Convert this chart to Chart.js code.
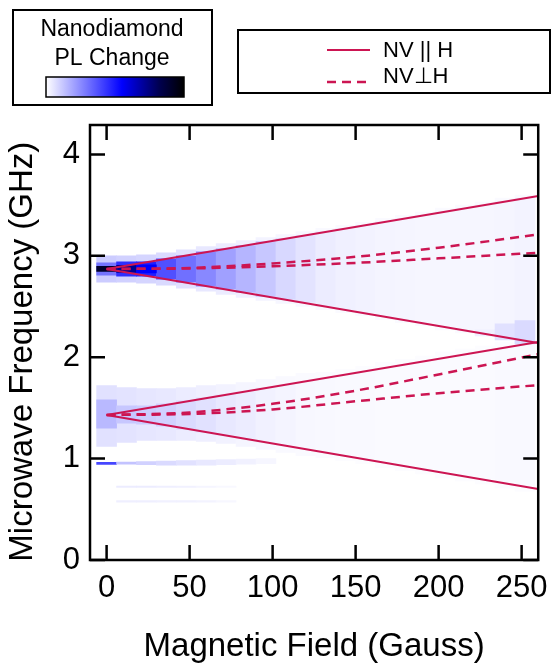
<!DOCTYPE html>
<html>
<head>
<meta charset="utf-8">
<script src="https://cdn.jsdelivr.net/npm/chart.js@4.4.1/dist/chart.umd.min.js"></script>
<style>
  html, body { margin: 0; padding: 0; background: #fff; }
  canvas { display: block; }
</style>
</head>
<body>
<canvas id="grafico" width="558" height="663"></canvas>
<script>
// eixos
const xTicks = [0, 50, 100, 150, 200, 250];
const yTicks = [0, 1, 2, 3, 4];

// colunas do mapa (Gauss)
const fieldCols = [0, 12, 24, 36, 48, 60, 72, 84, 96, 108, 120, 132, 144, 156, 168, 180, 192, 204, 216, 228, 240, 252];

// faixa superior (~2.87 GHz)
const upperHaloLow   = [2.74, 2.74, 2.73, 2.71, 2.68, 2.65, 2.62, 2.59, 2.56, 2.53, 2.50, 2.47, 2.44, 2.41, 2.37, 2.34, 2.31, 2.27, 2.24, 2.21, 2.17, 2.14];
const upperHaloHigh  = [3.00, 3.00, 3.01, 3.03, 3.06, 3.09, 3.12, 3.15, 3.18, 3.21, 3.24, 3.27, 3.30, 3.33, 3.37, 3.40, 3.43, 3.47, 3.50, 3.53, 3.57, 3.60];
const upperHaloLevel = [0.11, 0.10, 0.09, 0.08, 0.065, 0.05, 0.04, 0.032, 0.026, 0.02, 0.016, 0.013, 0.011, 0.01, 0.01, 0.01, 0.01, 0.01, 0.01, 0.01, 0.01, 0.01];

const upperMidLow   = [2.81, 2.80, 2.80, 2.77, 2.74, 2.70, 2.67, 2.64, 2.60, 2.57, 2.54, 2.50, 2.47, 2.44, 2.40, 2.37, 2.34, 2.30, 2.27, 2.24, 2.20, 2.17];
const upperMidHigh  = [2.93, 2.94, 2.94, 2.97, 3.00, 3.04, 3.07, 3.10, 3.14, 3.17, 3.20, 3.24, 3.27, 3.30, 3.34, 3.37, 3.40, 3.44, 3.47, 3.50, 3.54, 3.57];
const upperMidLevel = [0.30, 0.45, 0.48, 0.377, 0.308, 0.257, 0.205, 0.16, 0.12, 0.085, 0.06, 0.042, 0.032, 0.027, 0.024, 0.022, 0.02, 0.02, 0.02, 0.02, 0.022, 0.026];

const upperCenterCols  = [0, 12, 24];
const upperCenterLow   = [2.845, 2.835, 2.83];
const upperCenterHigh  = [2.895, 2.905, 2.91];
const upperCenterLevel = [0.90, 0.72, 0.55];

const crossingCols  = [228, 240, 252];
const crossingLow   = [2.21, 2.17, 2.13];
const crossingHigh  = [2.27, 2.33, 2.36];
const crossingLevel = [0.035, 0.065, 0.08];

// faixa inferior (~1.43 GHz)
const lowerHaloLow   = [1.12, 1.16, 1.18, 1.18, 1.18, 1.17, 1.15, 1.12, 1.09, 1.06, 1.03, 1.01, 0.98, 0.95, 0.91, 0.88, 0.85, 0.81, 0.78, 0.75, 0.71, 0.68];
const lowerHaloHigh  = [1.72, 1.70, 1.69, 1.69, 1.70, 1.72, 1.73, 1.75, 1.78, 1.81, 1.84, 1.85, 1.88, 1.91, 1.95, 1.98, 2.01, 2.05, 2.08, 2.11, 2.15, 2.18];
const lowerHaloLevel = [0.065, 0.06, 0.055, 0.05, 0.04, 0.034, 0.028, 0.022, 0.017, 0.013, 0.01, 0.008, 0.007, 0.006, 0.006, 0.006, 0.006, 0.006, 0.006, 0.006, 0.006, 0.006];

const lowerCoreLow   = [1.30, 1.35, 1.34, 1.32, 1.29, 1.26, 1.23, 1.20, 1.16, 1.13, 1.10, 1.06, 1.03, 1.00, 0.97, 0.93, 0.90, 0.87, 0.83, 0.80, 0.77, 0.73];
const lowerCoreHigh  = [1.58, 1.52, 1.52, 1.54, 1.57, 1.60, 1.63, 1.66, 1.70, 1.73, 1.76, 1.80, 1.83, 1.86, 1.89, 1.93, 1.96, 1.99, 2.03, 2.06, 2.09, 2.13];
const lowerCoreLevel = [0.15, 0.12, 0.11, 0.10, 0.08, 0.065, 0.05, 0.04, 0.03, 0.024, 0.018, 0.015, 0.013, 0.012, 0.011, 0.011, 0.011, 0.011, 0.011, 0.011, 0.012, 0.014];

// linha em ~0.96 GHz e linhas fracas
const stripeCols  = [0, 12, 24, 36, 48, 60, 72, 84, 96];
const stripeLow   = [0.942, 0.945, 0.94, 0.935, 0.935, 0.935, 0.94, 0.945, 0.95];
const stripeHigh  = [0.962, 0.965, 0.97, 0.975, 0.98, 0.985, 0.99, 0.995, 1.00];
const stripeLevel = [0.40, 0.13, 0.10, 0.08, 0.065, 0.05, 0.04, 0.03, 0.02];

const faintCols     = [12, 24, 36, 48, 60, 72];
const faint072Low   = [0.715, 0.715, 0.715, 0.715, 0.715, 0.715];
const faint072High  = [0.73, 0.73, 0.73, 0.73, 0.73, 0.73];
const faint072Level = [0.04, 0.04, 0.035, 0.03, 0.022, 0.015];
const faint058Low   = [0.57, 0.57, 0.57, 0.57, 0.57, 0.57];
const faint058High  = [0.585, 0.585, 0.585, 0.585, 0.585, 0.585];
const faint058Level = [0.035, 0.035, 0.03, 0.03, 0.025, 0.018];

// linhas teóricas
const fieldLine    = [0, 260];
const parUpperHigh = [2.87, 3.59];
const parUpperLow  = [2.87, 2.14];
const parLowerHigh = [1.43, 2.15];
const parLowerLow  = [1.43, 0.70];

const perpField      = [0, 50, 100, 150, 200, 260];
const perpUpperOuter = [2.87, 2.88, 2.925, 2.99, 3.08, 3.21];
const perpUpperInner = [2.87, 2.875, 2.897, 2.93, 2.975, 3.03];
const perpLowerOuter = [1.43, 1.455, 1.54, 1.67, 1.83, 2.03];
const perpLowerInner = [1.43, 1.44, 1.485, 1.565, 1.645, 1.725];

const corLinha = '#cc1552';
const fonte = '"Liberation Sans", Arial, Helvetica, sans-serif';

// escala de cores: branco -> azul -> marinho -> preto
const escala = [[0, [255, 255, 255]], [0.55, [0, 0, 255]], [0.82, [0, 0, 80]], [1, [0, 0, 0]]];

function corPL(t) {
    for (let i = 1; i < escala.length; i++) {
        if (t <= escala[i][0]) {
            const a = escala[i - 1], b = escala[i];
            const f = (t - a[0]) / (b[0] - a[0]);
            const c = a[1].map((v, k) => Math.round(v + (b[1][k] - v) * f));
            return `rgb(${c[0]}, ${c[1]}, ${c[2]})`;
        }
    }
    return 'rgb(0, 0, 0)';
}

function faixa(rotulo, cols, low, high, level, ordem) {
    return {
        type: 'bar',
        label: rotulo,
        data: cols.map((c, i) => ({ x: c, y: [low[i], high[i]] })),
        backgroundColor: level.map(corPL),
        borderWidth: 0,
        grouped: false,
        barPercentage: 1,
        categoryPercentage: 1,
        order: ordem
    };
}

function linha(rotulo, xs, ys, tracejada) {
    return {
        type: 'line',
        label: rotulo,
        data: xs.map((x, i) => ({ x: x, y: ys[i] })),
        borderColor: corLinha,
        borderWidth: tracejada ? 2.5 : 2,
        borderDash: tracejada ? [9, 6] : [],
        pointRadius: 0,
        fill: false,
        cubicInterpolationMode: 'monotone',
        order: 0
    };
}

const moldura = {
    id: 'moldura',
    afterDatasetsDraw(chart) {
        const { ctx, chartArea: a, scales: { x, y } } = chart;
        ctx.save();
        ctx.strokeStyle = '#000';
        ctx.lineWidth = 2.5;
        ctx.strokeRect(a.left, a.top, a.right - a.left, a.bottom - a.top);
        ctx.beginPath();
        xTicks.forEach(function (v) {
            const px = x.getPixelForValue(v);
            ctx.moveTo(px, a.bottom); ctx.lineTo(px, a.bottom - 15);
            ctx.moveTo(px, a.top); ctx.lineTo(px, a.top + 15);
        });
        yTicks.forEach(function (v) {
            const py = y.getPixelForValue(v);
            ctx.moveTo(a.left, py); ctx.lineTo(a.left + 15, py);
            ctx.moveTo(a.right, py); ctx.lineTo(a.right - 15, py);
        });
        ctx.stroke();
        ctx.restore();
    }
};

const legendas = {
    id: 'legendas',
    afterDraw(chart) {
        const ctx = chart.ctx;
        ctx.save();
        ctx.strokeStyle = '#000';
        ctx.fillStyle = '#000';
        ctx.lineWidth = 2;
        ctx.strokeRect(13, 10, 199, 95);
        ctx.font = '23px ' + fonte;
        ctx.textAlign = 'center';
        ctx.textBaseline = 'middle';
        ctx.fillText('Nanodiamond', 112, 30);
        ctx.fillText('PL Change', 112, 59);

        const grad = ctx.createLinearGradient(46, 0, 184, 0);
        escala.forEach(function (s) {
            grad.addColorStop(s[0], `rgb(${s[1][0]}, ${s[1][1]}, ${s[1][2]})`);
        });
        ctx.fillStyle = grad;
        ctx.fillRect(46, 77, 138, 20);
        ctx.lineWidth = 1.5;
        ctx.strokeRect(46, 77, 138, 20);

        ctx.lineWidth = 2;
        ctx.strokeRect(238, 30, 312, 63);
        ctx.strokeStyle = corLinha;
        ctx.beginPath();
        ctx.moveTo(327, 50); ctx.lineTo(370, 50);
        ctx.stroke();
        ctx.setLineDash([9, 6]);
        ctx.lineWidth = 2.5;
        ctx.beginPath();
        ctx.moveTo(327, 82); ctx.lineTo(370, 82);
        ctx.stroke();
        ctx.setLineDash([]);

        ctx.fillStyle = '#000';
        ctx.font = '22px ' + fonte;
        ctx.textAlign = 'left';
        ctx.fillText('NV || H', 383, 51);
        ctx.fillText('NV\u22A5H', 383, 77);
        ctx.restore();
    }
};

const dados = {
    datasets: [
        linha('NV || H', fieldLine, parUpperHigh, false),
        linha('NV || H', fieldLine, parUpperLow, false),
        linha('NV || H', fieldLine, parLowerHigh, false),
        linha('NV || H', fieldLine, parLowerLow, false),
        linha('NV ⊥ H', perpField, perpUpperOuter, true),
        linha('NV ⊥ H', perpField, perpUpperInner, true),
        linha('NV ⊥ H', perpField, perpLowerOuter, true),
        linha('NV ⊥ H', perpField, perpLowerInner, true),
        faixa('upperCenter', upperCenterCols, upperCenterLow, upperCenterHigh, upperCenterLevel, 1),
        faixa('crossing', crossingCols, crossingLow, crossingHigh, crossingLevel, 1.5),
        faixa('upperMid', fieldCols, upperMidLow, upperMidHigh, upperMidLevel, 2),
        faixa('upperHalo', fieldCols, upperHaloLow, upperHaloHigh, upperHaloLevel, 3),
        faixa('stripe', stripeCols, stripeLow, stripeHigh, stripeLevel, 2),
        faixa('faint072', faintCols, faint072Low, faint072High, faint072Level, 2),
        faixa('faint058', faintCols, faint058Low, faint058High, faint058Level, 2),
        faixa('lowerCore', fieldCols, lowerCoreLow, lowerCoreHigh, lowerCoreLevel, 2.5),
        faixa('lowerHalo', fieldCols, lowerHaloLow, lowerHaloHigh, lowerHaloLevel, 3.5)
    ]
};

const fonteTicks = { family: fonte, size: 31 };
const fonteTitulo = { family: fonte, size: 33, lineHeight: 1 };

new Chart(document.getElementById('grafico'), {
    type: 'bar',
    data: dados,
    options: {
        responsive: false,
        animation: false,
        devicePixelRatio: 1,
        layout: { padding: { top: 125, right: 14, left: 0, bottom: 0 } },
        plugins: {
            legend: { display: false },
            tooltip: { enabled: false }
        },
        scales: {
            x: {
                type: 'linear',
                min: -10,
                max: 260,
                offset: false,
                grid: { display: false, offset: false, drawTicks: false },
                border: { display: false },
                afterBuildTicks: function (s) { s.ticks = xTicks.map(v => ({ value: v })); },
                afterFit: function (s) { s.height = 103; },
                ticks: { color: '#000', font: fonteTicks, padding: 10, maxRotation: 0, autoSkip: false },
                title: { display: true, text: 'Magnetic Field (Gauss)', color: '#000', font: fonteTitulo, padding: { top: 0, bottom: 0 } }
            },
            y: {
                type: 'linear',
                min: 0,
                max: 4.29,
                grid: { display: false, drawTicks: false },
                border: { display: false },
                afterBuildTicks: function (s) { s.ticks = yTicks.map(v => ({ value: v })); },
                afterFit: function (s) { s.width = 90; },
                ticks: { color: '#000', font: fonteTicks, padding: 10 },
                title: { display: true, text: 'Microwave Frequency (GHz)  ', color: '#000', font: fonteTitulo, padding: { top: 6, bottom: 0 } }
            }
        }
    },
    plugins: [moldura, legendas]
});
</script>
</body>
</html>
